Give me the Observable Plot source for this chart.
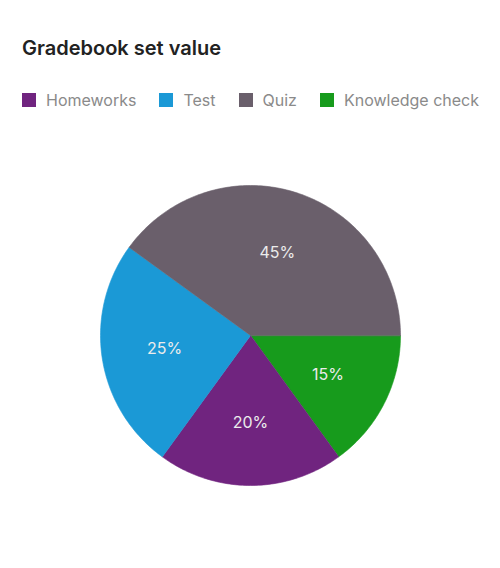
<!DOCTYPE html>
<html>
<head>
<meta charset="utf-8">
<script src="https://cdn.jsdelivr.net/npm/d3@7"></script>
<script src="https://cdn.jsdelivr.net/npm/@observablehq/plot@0.6"></script>
<style>
  html, body { margin: 0; padding: 0; background: #fff; }
  body { width: 500px; height: 568px; position: relative; font-family: Inter, "Noto Sans", sans-serif; }
  #title { position: absolute; left: 22px; top: 36px; font-size: 20px; font-weight: 600; color: #222; line-height: 24px; margin: 0; white-space: nowrap; }
  #legend { position: absolute; left: 22px; top: 89px; display: flex; align-items: center; font-size: 16px; color: #8a8a8a; line-height: 22px; white-space: nowrap; width: 478px; }
  #legend .item { display: flex; align-items: center; margin-right: 23px; flex: none; }
  #legend .sw { width: 14px; height: 14px; margin-right: 10px; }
  #chart { position: absolute; left: 0; top: 130px; }
</style>
</head>
<body>
<h2 id="title">Gradebook set value</h2>
<div id="legend"></div>
<div id="chart"></div>
<script>
// Legend order
const categories = ["Homeworks", "Test", "Quiz", "Knowledge check"];
const shares = [20, 25, 45, 15]; // percent of the set value
const colors = ["#70247f", "#1b99d6", "#6a5f6b", "#179b1c"];
// Slice order, clockwise starting at 3 o'clock
const sliceOrder = ["Knowledge check", "Homeworks", "Test", "Quiz"];
const labelSuffix = "%";

const shareOf = new Map(categories.map((c, i) => [c, shares[i]]));
const ordered = sliceOrder.map(name => ({name, value: shareOf.get(name)}));

// Legend
const legend = d3.select("#legend");
categories.forEach((c, i) => {
  const it = legend.append("div").attr("class", "item");
  it.append("div").attr("class", "sw").style("background", colors[i]);
  it.append("span").text(c);
});

// Pie geometry: each percent takes 1/100 of the circle, clipped at one full turn
const TAU = 2 * Math.PI;
const cum = Array.from(d3.cumsum(ordered, d => d.value));
const arcs = ordered.map((d, i) => ({
  data: d,
  startAngle: Math.min(TAU, (cum[i] - d.value) / 100 * TAU),
  endAngle: Math.min(TAU, cum[i] / 100 * TAU)
}));
const pt = (a, r = 1) => [r * Math.cos(a), r * Math.sin(a)];
const features = arcs.map(a => {
  const n = Math.max(2, Math.ceil((a.endAngle - a.startAngle) / (Math.PI / 180)));
  const ring = [[0, 0]];
  for (let k = 0; k <= n; k++) ring.push(pt(a.startAngle + (a.endAngle - a.startAngle) * k / n));
  ring.push([0, 0]);
  return {type: "Feature", properties: {name: a.data.name}, geometry: {type: "Polygon", coordinates: [ring]}};
});
const labelsData = arcs.map(a => {
  const [x, y] = pt((a.startAngle + a.endAngle) / 2, 0.58);
  return {x, y, text: a.data.value + labelSuffix};
});

const plot = Plot.plot({
  width: 500,
  height: 410,
  marginLeft: 100, marginRight: 100, marginTop: 55, marginBottom: 55,
  projection: {type: "identity", domain: {type: "MultiPoint", coordinates: [[-1, -1], [1, 1]]}},
  color: {domain: categories, range: colors},
  style: {fontFamily: "Inter, 'Noto Sans', sans-serif", background: "transparent"},
  marks: [
    Plot.geo({type: "FeatureCollection", features}, {fill: d => d.properties.name, stroke: d => d.properties.name, strokeWidth: 0.6}),
    Plot.text(labelsData, {x: "x", y: "y", text: "text", fill: "#ececec", fontSize: 16})
  ]
});
document.getElementById("chart").append(plot);
</script>
</body>
</html>
